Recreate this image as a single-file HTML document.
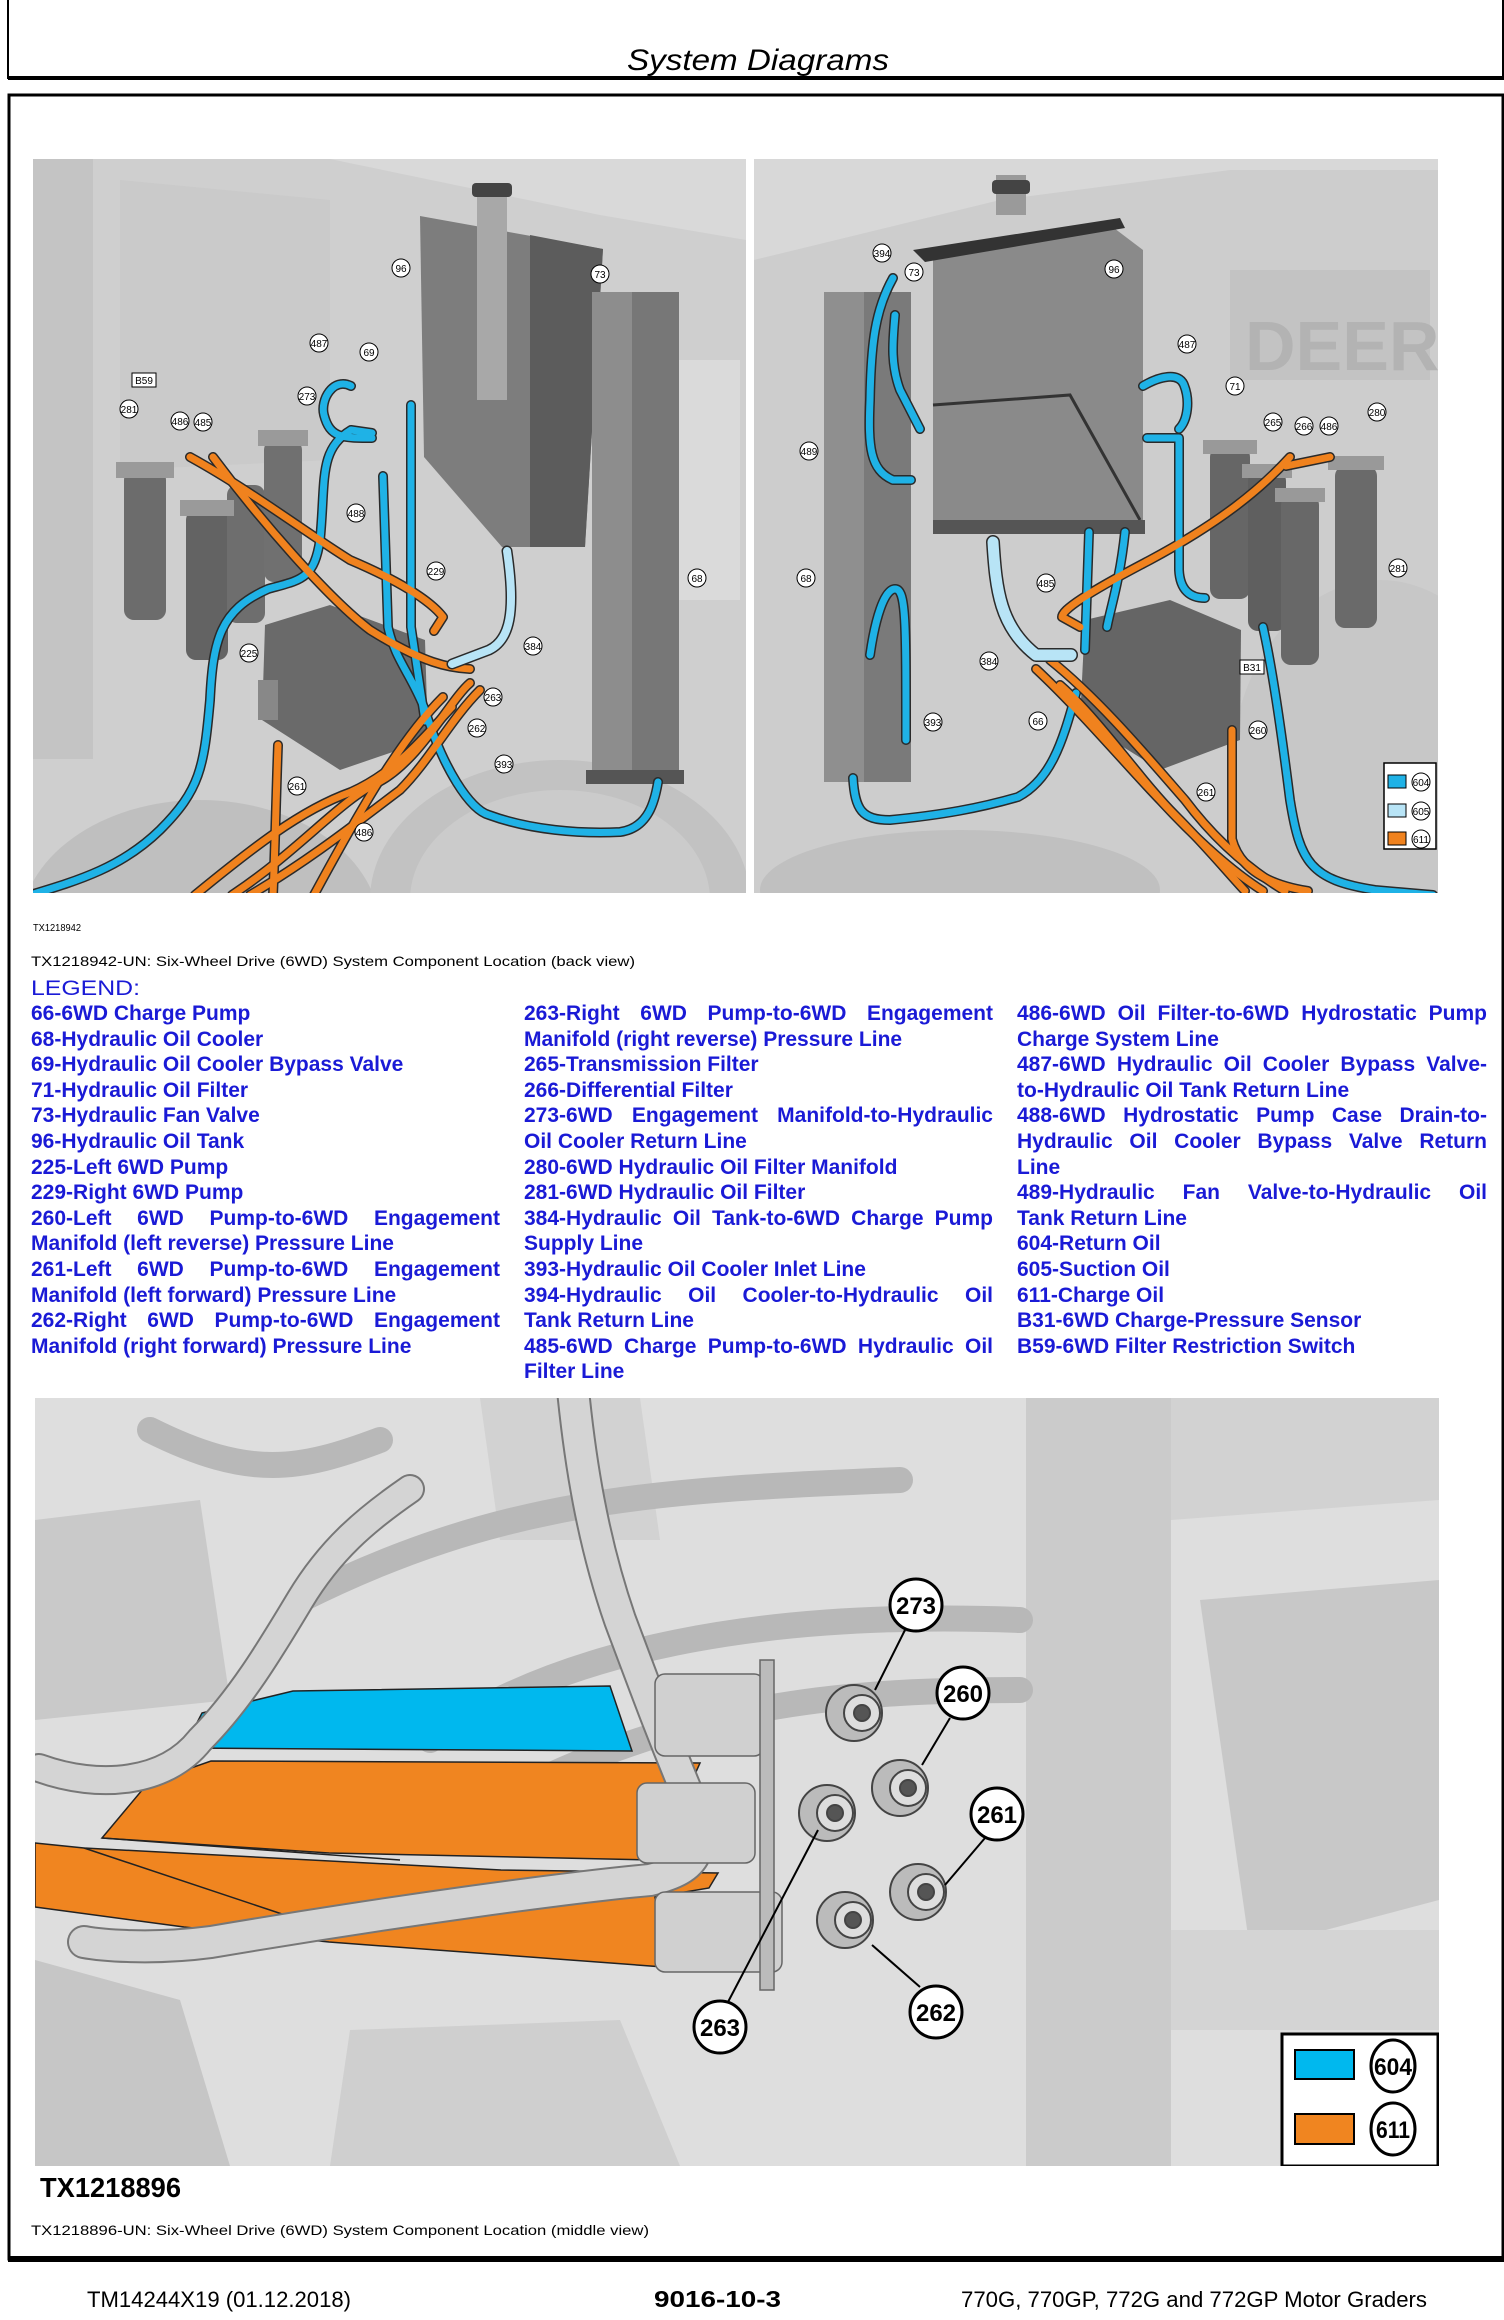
<!DOCTYPE html>
<html><head><meta charset="utf-8"><style>
html,body{margin:0;padding:0;background:#fff;}
svg{display:block;position:absolute;left:0;top:0;}
text{font-family:"Liberation Sans",sans-serif;}
.lg{position:absolute;font-family:"Liberation Sans",sans-serif;font-weight:bold;font-size:21px;line-height:25.6px;color:#1a1ad6;width:470px;}
.lg div{white-space:nowrap;height:25.6px;}
.lg .j{text-align:justify;text-align-last:justify;}
</style></head><body>
<div style="position:relative;width:1504px;height:2320px;overflow:hidden;">
<svg width="1504" height="2320" viewBox="0 0 1504 2320" xmlns="http://www.w3.org/2000/svg">
<defs>
<clipPath id="cL"><rect x="33" y="159" width="713" height="734"/></clipPath>
<clipPath id="cR"><rect x="754" y="159" width="684" height="734"/></clipPath>
<clipPath id="cB"><rect x="35" y="1398" width="1404" height="768"/></clipPath>
</defs>
<rect width="1504" height="2320" fill="#fff"/>
<path d="M8 0 V78 H1503 V0" fill="none" stroke="#000" stroke-width="2"/>
<rect x="8" y="76" width="1496" height="4" fill="#000"/>
<text x="627" y="70" font-size="30" font-style="italic" textLength="262" lengthAdjust="spacingAndGlyphs">System Diagrams</text>
<rect x="9" y="95" width="1494" height="2164" fill="none" stroke="#000" stroke-width="3"/>
<rect x="8" y="2256" width="1496" height="6" fill="#000"/>

<!-- LEFT TOP IMAGE -->
<g clip-path="url(#cL)">
<rect x="33" y="159" width="713" height="734" fill="#d9d9d9"/>
<path d="M33 159 H330 L600 215 L746 240 V893 H33Z" fill="#cfcfcf"/>
<rect x="33" y="159" width="60" height="600" fill="#c4c4c4"/>
<path d="M120 180 L330 200 L330 460 L120 470Z" fill="#cacaca"/>
<path d="M600 360 H740 V600 H600Z" fill="#dadada"/>
<ellipse cx="200" cy="930" rx="180" ry="130" fill="#bfbfbf"/>
<ellipse cx="560" cy="900" rx="190" ry="140" fill="#c2c2c2"/>
<ellipse cx="560" cy="900" rx="150" ry="110" fill="#cbcbcb"/>
<rect x="124" y="470" width="42" height="150" rx="10" fill="#6c6c6c"/>
<rect x="186" y="510" width="42" height="150" rx="10" fill="#636363"/>
<rect x="227" y="485" width="38" height="138" rx="10" fill="#6e6e6e"/>
<rect x="264" y="440" width="38" height="142" rx="10" fill="#707070"/>
<rect x="116" y="462" width="58" height="16" fill="#9a9a9a"/>
<rect x="180" y="500" width="54" height="16" fill="#9a9a9a"/>
<rect x="258" y="430" width="50" height="16" fill="#9a9a9a"/>
<path d="M420 216 L603 249 L585 547 L502 547 L424 457Z" fill="#7d7d7d"/>
<path d="M530 235 L603 249 L585 547 L530 547Z" fill="#5c5c5c"/>
<rect x="477" y="190" width="30" height="210" fill="#a8a8a8"/>
<rect x="472" y="183" width="40" height="14" rx="4" fill="#444"/>
<rect x="592" y="292" width="87" height="490" fill="#777"/>
<rect x="592" y="292" width="40" height="490" fill="#8d8d8d"/>
<rect x="586" y="770" width="98" height="14" fill="#555"/>
<path d="M265 625 L330 605 L425 640 L428 740 L340 770 L262 720Z" fill="#6a6a6a"/>
<rect x="258" y="680" width="20" height="40" fill="#888"/>
<g fill="none" stroke-linecap="round" stroke-linejoin="round">
<g stroke="#2a2a2a" stroke-width="10">
<path d="M30 895 C80 880 122 867 160 830 C200 790 204 768 210 700 C213 640 220 610 268 589 C300 580 314 580 320 540 C326 480 318 450 351 430 L372 433"/>
<path d="M351 386 C333 377 320 400 324 415 C330 438 342 438 372 438"/>
<path d="M383 476 L388 627 C395 660 411 674 425 710 C443 768 470 810 489 815 C530 830 580 834 620 832 C649 828 655 800 658 782"/>
<path d="M411 405 L411 627 L425 721"/>
<path d="M190 457 C250 490 305 532 350 560 C397 580 430 600 443 617 L434 631"/>
<path d="M213 457 C260 520 328 598 370 630 C424 664 450 668 470 669"/>
<path d="M278 745 C276 800 275 850 273 895"/>
<path d="M314 895 C360 810 400 740 443 697"/>
<path d="M195 895 C250 850 300 810 351 792 C400 770 430 730 452 707"/>
<path d="M232 895 C300 850 340 800 379 782 C420 760 450 700 470 683"/>
<path d="M250 895 C310 860 360 820 400 790 C430 760 450 720 480 690"/>
</g>
<g stroke="#1fb2e6" stroke-width="7">
<path d="M30 895 C80 880 122 867 160 830 C200 790 204 768 210 700 C213 640 220 610 268 589 C300 580 314 580 320 540 C326 480 318 450 351 430 L372 433"/>
<path d="M351 386 C333 377 320 400 324 415 C330 438 342 438 372 438"/>
<path d="M383 476 L388 627 C395 660 411 674 425 710 C443 768 470 810 489 815 C530 830 580 834 620 832 C649 828 655 800 658 782"/>
<path d="M411 405 L411 627 L425 721"/>
</g>
<g stroke="#f0821e" stroke-width="7">
<path d="M190 457 C250 490 305 532 350 560 C397 580 430 600 443 617 L434 631"/>
<path d="M213 457 C260 520 328 598 370 630 C424 664 450 668 470 669"/>
<path d="M278 745 C276 800 275 850 273 895"/>
<path d="M314 895 C360 810 400 740 443 697"/>
<path d="M195 895 C250 850 300 810 351 792 C400 770 430 730 452 707"/>
<path d="M232 895 C300 850 340 800 379 782 C420 760 450 700 470 683"/>
<path d="M250 895 C310 860 360 820 400 790 C430 760 450 720 480 690"/>
</g>
<path d="M507 551 C516 612 510 640 489 650 L452 664" stroke="#2a2a2a" stroke-width="11"/>
<path d="M507 551 C516 612 510 640 489 650 L452 664" stroke="#b8e4f6" stroke-width="8"/>
</g>
<g font-size="10" text-anchor="middle" fill="#000">
<g fill="#fff" stroke="#000" stroke-width="1">
<circle cx="401" cy="268" r="9"/><circle cx="600" cy="274" r="9"/><circle cx="319" cy="343" r="9"/><circle cx="369" cy="352" r="9"/><circle cx="307" cy="396" r="9"/><circle cx="129" cy="409" r="9"/><circle cx="180" cy="421" r="9"/><circle cx="203" cy="422" r="9"/><circle cx="356" cy="513" r="9"/><circle cx="436" cy="571" r="9"/><circle cx="697" cy="578" r="9"/><circle cx="533" cy="646" r="9"/><circle cx="249" cy="653" r="9"/><circle cx="493" cy="697" r="9"/><circle cx="477" cy="728" r="9"/><circle cx="504" cy="764" r="9"/><circle cx="297" cy="786" r="9"/><circle cx="364" cy="832" r="9"/>
<rect x="132" y="373" width="24" height="14"/>
</g>
<text x="401" y="272">96</text><text x="600" y="278">73</text><text x="319" y="347">487</text><text x="369" y="356">69</text><text x="307" y="400">273</text><text x="144" y="384">B59</text><text x="129" y="413">281</text><text x="180" y="425">486</text><text x="203" y="426">485</text><text x="356" y="517">488</text><text x="436" y="575">229</text><text x="697" y="582">68</text><text x="533" y="650">384</text><text x="249" y="657">225</text><text x="493" y="701">263</text><text x="477" y="732">262</text><text x="504" y="768">393</text><text x="297" y="790">261</text><text x="364" y="836">486</text>
</g>
</g>

<!-- RIGHT TOP IMAGE -->
<g clip-path="url(#cR)">
<rect x="754" y="159" width="684" height="734" fill="#d8d8d8"/>
<path d="M754 260 L1000 200 L1230 170 L1438 170 V893 H754Z" fill="#cdcdcd"/>
<path d="M1230 270 H1430 V380 H1230Z" fill="#c3c3c3"/>
<text x="1245" y="370" font-size="70" font-weight="bold" fill="#b3b3b3">DEERE</text>
<ellipse cx="1380" cy="780" rx="150" ry="200" fill="#c7c7c7"/>
<ellipse cx="960" cy="890" rx="200" ry="60" fill="#c0c0c0"/>
<rect x="824" y="292" width="87" height="490" fill="#7a7a7a"/>
<rect x="824" y="292" width="40" height="490" fill="#8f8f8f"/>
<path d="M933 250 L1110 225 L1143 250 L1143 532 L933 532Z" fill="#8a8a8a"/>
<path d="M913 250 L1120 218 L1125 228 L925 262Z" fill="#333"/>
<path d="M933 405 L1070 395 L1140 520" fill="none" stroke="#333" stroke-width="3"/>
<rect x="996" y="175" width="30" height="40" fill="#9a9a9a"/>
<rect x="992" y="180" width="38" height="14" rx="4" fill="#444"/>
<rect x="933" y="520" width="212" height="14" fill="#555"/>
<rect x="1210" y="447" width="40" height="152" rx="10" fill="#666"/>
<rect x="1248" y="471" width="38" height="160" rx="10" fill="#5f5f5f"/>
<rect x="1281" y="495" width="38" height="170" rx="10" fill="#686868"/>
<rect x="1335" y="466" width="42" height="162" rx="10" fill="#6a6a6a"/>
<rect x="1203" y="440" width="54" height="14" fill="#999"/><rect x="1328" y="456" width="56" height="14" fill="#999"/><rect x="1242" y="464" width="50" height="14" fill="#999"/><rect x="1275" y="488" width="50" height="14" fill="#999"/>
<path d="M1085 620 L1170 600 L1241 630 L1240 740 L1160 770 L1080 720Z" fill="#656565"/>
<g fill="none" stroke-linecap="round" stroke-linejoin="round">
<g stroke="#2a2a2a" stroke-width="10">
<path d="M893 278 C875 310 871 344 870 400 C868 447 870 470 893 480 L911 480"/>
<path d="M895 315 C893 340 890 363 900 390 L920 429"/>
<path d="M853 778 C855 810 862 820 890 820 C942 815 980 808 1018 797 C1050 780 1062 745 1076 693"/>
<path d="M870 655 C875 620 884 589 895 589 C906 589 906 620 906 740"/>
<path d="M1147 438 L1179 438 L1179 570 C1180 590 1190 598 1205 598"/>
<path d="M1143 386 C1160 376 1179 372 1184 385 C1190 400 1188 420 1179 429"/>
<path d="M1263 627 C1275 680 1286 768 1290 800 C1300 862 1310 880 1375 890 L1433 895"/>
<path d="M1089 532 L1085 650"/>
<path d="M1125 532 C1120 580 1110 610 1107 627"/>
<path d="M1290 457 C1260 490 1219 523 1150 560 C1085 594 1062 610 1062 617 L1080 627"/>
<path d="M1036 669 C1080 710 1129 768 1160 800 C1196 839 1230 870 1263 891"/>
<path d="M1050 660 C1100 700 1150 760 1185 800 C1215 840 1250 870 1285 891"/>
<path d="M1060 685 C1100 720 1140 780 1175 815 C1205 845 1230 875 1245 891"/>
<path d="M1232 730 L1232 839 C1240 870 1270 885 1308 891"/>
<path d="M1286 466 L1330 457"/>
</g>
<g stroke="#1fb2e6" stroke-width="7">
<path d="M893 278 C875 310 871 344 870 400 C868 447 870 470 893 480 L911 480"/>
<path d="M895 315 C893 340 890 363 900 390 L920 429"/>
<path d="M853 778 C855 810 862 820 890 820 C942 815 980 808 1018 797 C1050 780 1062 745 1076 693"/>
<path d="M870 655 C875 620 884 589 895 589 C906 589 906 620 906 740"/>
<path d="M1147 438 L1179 438 L1179 570 C1180 590 1190 598 1205 598"/>
<path d="M1143 386 C1160 376 1179 372 1184 385 C1190 400 1188 420 1179 429"/>
<path d="M1263 627 C1275 680 1286 768 1290 800 C1300 862 1310 880 1375 890 L1433 895"/>
<path d="M1089 532 L1085 650"/>
<path d="M1125 532 C1120 580 1110 610 1107 627"/>
</g>
<g stroke="#f0821e" stroke-width="7">
<path d="M1290 457 C1260 490 1219 523 1150 560 C1085 594 1062 610 1062 617 L1080 627"/>
<path d="M1036 669 C1080 710 1129 768 1160 800 C1196 839 1230 870 1263 891"/>
<path d="M1050 660 C1100 700 1150 760 1185 800 C1215 840 1250 870 1285 891"/>
<path d="M1060 685 C1100 720 1140 780 1175 815 C1205 845 1230 875 1245 891"/>
<path d="M1232 730 L1232 839 C1240 870 1270 885 1308 891"/>
<path d="M1286 466 L1330 457"/>
</g>
<path d="M993 542 C996 590 1000 627 1036 655 L1071 655" stroke="#2a2a2a" stroke-width="14"/>
<path d="M993 542 C996 590 1000 627 1036 655 L1071 655" stroke="#b8e4f6" stroke-width="11"/>
</g>
<g font-size="10" text-anchor="middle" fill="#000">
<g fill="#fff" stroke="#000" stroke-width="1">
<circle cx="882" cy="253" r="9"/><circle cx="914" cy="272" r="9"/><circle cx="1114" cy="269" r="9"/><circle cx="1187" cy="344" r="9"/><circle cx="1235" cy="386" r="9"/><circle cx="1273" cy="422" r="9"/><circle cx="1304" cy="426" r="9"/><circle cx="1329" cy="426" r="9"/><circle cx="1377" cy="412" r="9"/><circle cx="809" cy="451" r="9"/><circle cx="806" cy="578" r="9"/><circle cx="1046" cy="583" r="9"/><circle cx="1398" cy="568" r="9"/><circle cx="989" cy="661" r="9"/><circle cx="1038" cy="721" r="9"/><circle cx="933" cy="722" r="9"/><circle cx="1258" cy="730" r="9"/><circle cx="1206" cy="792" r="9"/>
<rect x="1240" y="660" width="24" height="14"/>
</g>
<text x="882" y="257">394</text><text x="914" y="276">73</text><text x="1114" y="273">96</text><text x="1187" y="348">487</text><text x="1235" y="390">71</text><text x="1273" y="426">265</text><text x="1304" y="430">266</text><text x="1329" y="430">486</text><text x="1377" y="416">280</text><text x="809" y="455">489</text><text x="806" y="582">68</text><text x="1046" y="587">485</text><text x="1398" y="572">281</text><text x="989" y="665">384</text><text x="1252" y="671">B31</text><text x="1038" y="725">66</text><text x="933" y="726">393</text><text x="1258" y="734">260</text><text x="1206" y="796">261</text>
</g>
<rect x="1384" y="763" width="52" height="86" fill="#fff" stroke="#000" stroke-width="1.5"/>
<rect x="1388" y="775" width="18" height="13" fill="#1fb2e6" stroke="#000"/>
<rect x="1388" y="804" width="18" height="13" fill="#b8e4f6" stroke="#000"/>
<rect x="1388" y="832" width="18" height="13" fill="#f0821e" stroke="#000"/>
<g font-size="10" text-anchor="middle"><circle cx="1421" cy="782" r="9" fill="#fff" stroke="#000"/><circle cx="1421" cy="811" r="9" fill="#fff" stroke="#000"/><circle cx="1421" cy="839" r="9" fill="#fff" stroke="#000"/>
<text x="1421" y="786">604</text><text x="1421" y="815">605</text><text x="1421" y="843">611</text></g>
</g>

<text x="33" y="931" font-size="10" textLength="48" lengthAdjust="spacingAndGlyphs">TX1218942</text>
<text x="31" y="966" font-size="14" textLength="604" lengthAdjust="spacingAndGlyphs">TX1218942-UN: Six-Wheel Drive (6WD) System Component Location (back view)</text>
<text x="31" y="995" font-size="21" fill="#1a1ad6" textLength="109" lengthAdjust="spacingAndGlyphs">LEGEND:</text>

<!-- BOTTOM IMAGE -->
<g clip-path="url(#cB)">
<rect x="35" y="1398" width="1404" height="768" fill="#dedede"/>
<rect x="1026" y="1398" width="145" height="768" fill="#cbcbcb"/>
<path d="M1171 1398 H1439 V1500 L1171 1520Z" fill="#d2d2d2"/>
<path d="M1200 1600 L1439 1580 V1900 L1250 1950Z" fill="#c8c8c8"/>
<path d="M1171 1930 H1439 V2030 H1171Z" fill="#d4d4d4"/>
<path d="M35 1520 L200 1500 L230 1700 L35 1720Z" fill="#c9c9c9"/>
<path d="M35 1960 L180 2000 L230 2166 H35Z" fill="#c6c6c6"/>
<path d="M350 2030 L620 2020 L680 2166 H330Z" fill="#cfcfcf"/>
<path d="M480 1398 L640 1398 L660 1540 L500 1540Z" fill="#d2d2d2"/>
<g fill="none" stroke="#b8b8b8" stroke-width="26" stroke-linecap="round">
<path d="M430 1740 C560 1650 760 1610 1020 1620"/>
<path d="M520 1790 C700 1700 860 1690 1020 1690"/>
<path d="M300 1600 C500 1500 650 1490 900 1480"/>
<path d="M150 1430 C250 1480 300 1470 380 1440"/>
</g>
<path d="M202 1713 L293 1691 L610 1686 L632 1751 L184 1748Z" fill="#00b8ee" stroke="#222" stroke-width="1.5"/>
<path d="M148 1783 L211 1761 L700 1763 L691 1783 L646 1798 L655 1860 L329 1853 L102 1838Z" fill="#f08520" stroke="#222" stroke-width="1.5"/>
<path d="M35 1843 L84 1848 L501 1870 L718 1873 L709 1888 L655 1897 L664 1967 L329 1942 L184 1927 L35 1907Z" fill="#f08520" stroke="#222" stroke-width="1.5"/>
<path d="M102 1838 L400 1860" stroke="#222" stroke-width="1.5"/>
<path d="M84 1848 L300 1920" stroke="#222" stroke-width="1.5"/>
<g fill="none" stroke-linecap="round" stroke-linejoin="round">
<path d="M573 1390 C580 1460 592 1539 620 1620 C650 1700 664 1738 690 1800 C705 1850 700 1868 650 1880 C573 1887 400 1910 211 1942 C150 1950 100 1945 84 1942" stroke="#777" stroke-width="34"/>
<path d="M573 1390 C580 1460 592 1539 620 1620 C650 1700 664 1738 690 1800 C705 1850 700 1868 650 1880 C573 1887 400 1910 211 1942 C150 1950 100 1945 84 1942" stroke="#d4d4d4" stroke-width="30"/>
<path d="M39 1768 C100 1790 166 1783 200 1740 C240 1700 270 1650 300 1600 C330 1550 365 1520 410 1489" stroke="#777" stroke-width="30"/>
<path d="M39 1768 C100 1790 166 1783 200 1740 C240 1700 270 1650 300 1600 C330 1550 365 1520 410 1489" stroke="#d4d4d4" stroke-width="26"/>
</g>
<g fill="#d0d0d0" stroke="#666" stroke-width="1.5">
<rect x="655" y="1674" width="109" height="82" rx="10"/>
<rect x="637" y="1783" width="118" height="80" rx="10"/>
<rect x="655" y="1892" width="127" height="80" rx="10"/>
<rect x="760" y="1660" width="14" height="330" fill="#bbb"/>
</g>
<g stroke="#444" stroke-width="2">
<circle cx="854" cy="1713" r="28" fill="#bbb"/><circle cx="862" cy="1713" r="18" fill="#ddd"/><circle cx="862" cy="1713" r="8" fill="#555"/>
<circle cx="900" cy="1788" r="28" fill="#bbb"/><circle cx="908" cy="1788" r="18" fill="#ddd"/><circle cx="908" cy="1788" r="8" fill="#555"/>
<circle cx="827" cy="1813" r="28" fill="#bbb"/><circle cx="835" cy="1813" r="18" fill="#ddd"/><circle cx="835" cy="1813" r="8" fill="#555"/>
<circle cx="918" cy="1892" r="28" fill="#bbb"/><circle cx="926" cy="1892" r="18" fill="#ddd"/><circle cx="926" cy="1892" r="8" fill="#555"/>
<circle cx="845" cy="1920" r="28" fill="#bbb"/><circle cx="853" cy="1920" r="18" fill="#ddd"/><circle cx="853" cy="1920" r="8" fill="#555"/>
</g>
<g stroke="#000" stroke-width="2">
<line x1="905" y1="1630" x2="875" y2="1690"/>
<line x1="950" y1="1718" x2="922" y2="1765"/>
<line x1="985" y1="1838" x2="945" y2="1885"/>
<line x1="920" y1="1987" x2="872" y2="1945"/>
<line x1="728" y1="2002" x2="818" y2="1830"/>
</g>
<g font-size="24" font-weight="bold" text-anchor="middle">
<g fill="#fff" stroke="#000" stroke-width="3">
<circle cx="916" cy="1605" r="26"/><circle cx="963" cy="1693" r="26"/><circle cx="997" cy="1814" r="26"/><circle cx="936" cy="2012" r="26"/><circle cx="720" cy="2027" r="26"/>
</g>
<text x="916" y="1614">273</text><text x="963" y="1702">260</text><text x="997" y="1823">261</text><text x="936" y="2021">262</text><text x="720" y="2036">263</text>
</g>
<rect x="1282" y="2034" width="156" height="132" fill="#fff" stroke="#000" stroke-width="3"/>
<rect x="1295" y="2050" width="59" height="29" fill="#00b8ee" stroke="#000" stroke-width="2"/>
<rect x="1295" y="2114" width="59" height="30" fill="#f08520" stroke="#000" stroke-width="2"/>
<g font-size="24" font-weight="bold" text-anchor="middle">
<ellipse cx="1393" cy="2066" rx="22" ry="26" fill="#fff" stroke="#000" stroke-width="3"/>
<ellipse cx="1393" cy="2129" rx="22" ry="26" fill="#fff" stroke="#000" stroke-width="3"/>
<text x="1393" y="2075" textLength="38" lengthAdjust="spacingAndGlyphs">604</text>
<text x="1393" y="2138" textLength="34" lengthAdjust="spacingAndGlyphs">611</text>
</g>
</g>

<text x="40" y="2197" font-size="28" font-weight="bold" textLength="141" lengthAdjust="spacingAndGlyphs">TX1218896</text>
<text x="31" y="2235" font-size="14" textLength="618" lengthAdjust="spacingAndGlyphs">TX1218896-UN: Six-Wheel Drive (6WD) System Component Location (middle view)</text>

<text x="87" y="2307" font-size="22" textLength="264" lengthAdjust="spacingAndGlyphs">TM14244X19 (01.12.2018)</text>
<text x="654" y="2307" font-size="23" font-weight="bold" textLength="127" lengthAdjust="spacingAndGlyphs">9016-10-3</text>
<text x="961" y="2307" font-size="22" textLength="466" lengthAdjust="spacingAndGlyphs">770G, 770GP, 772G and 772GP Motor Graders</text>
</svg>

<div class="lg" style="left:31px;top:1001px;width:469px;">
<div>66-6WD Charge Pump</div>
<div>68-Hydraulic Oil Cooler</div>
<div>69-Hydraulic Oil Cooler Bypass Valve</div>
<div>71-Hydraulic Oil Filter</div>
<div>73-Hydraulic Fan Valve</div>
<div>96-Hydraulic Oil Tank</div>
<div>225-Left 6WD Pump</div>
<div>229-Right 6WD Pump</div>
<div class="j">260-Left 6WD Pump-to-6WD Engagement</div>
<div>Manifold (left reverse) Pressure Line</div>
<div class="j">261-Left 6WD Pump-to-6WD Engagement</div>
<div>Manifold (left forward) Pressure Line</div>
<div class="j">262-Right 6WD Pump-to-6WD Engagement</div>
<div>Manifold (right forward) Pressure Line</div>
</div>
<div class="lg" style="left:524px;top:1001px;width:469px;">
<div class="j">263-Right 6WD Pump-to-6WD Engagement</div>
<div>Manifold (right reverse) Pressure Line</div>
<div>265-Transmission Filter</div>
<div>266-Differential Filter</div>
<div class="j">273-6WD Engagement Manifold-to-Hydraulic</div>
<div>Oil Cooler Return Line</div>
<div>280-6WD Hydraulic Oil Filter Manifold</div>
<div>281-6WD Hydraulic Oil Filter</div>
<div class="j">384-Hydraulic Oil Tank-to-6WD Charge Pump</div>
<div>Supply Line</div>
<div>393-Hydraulic Oil Cooler Inlet Line</div>
<div class="j">394-Hydraulic Oil Cooler-to-Hydraulic Oil</div>
<div>Tank Return Line</div>
<div class="j">485-6WD Charge Pump-to-6WD Hydraulic Oil</div>
<div>Filter Line</div>
</div>
<div class="lg" style="left:1017px;top:1001px;width:470px;">
<div class="j">486-6WD Oil Filter-to-6WD Hydrostatic Pump</div>
<div>Charge System Line</div>
<div class="j">487-6WD Hydraulic Oil Cooler Bypass Valve-</div>
<div>to-Hydraulic Oil Tank Return Line</div>
<div class="j">488-6WD Hydrostatic Pump Case Drain-to-</div>
<div class="j">Hydraulic Oil Cooler Bypass Valve Return</div>
<div>Line</div>
<div class="j">489-Hydraulic Fan Valve-to-Hydraulic Oil</div>
<div>Tank Return Line</div>
<div>604-Return Oil</div>
<div>605-Suction Oil</div>
<div>611-Charge Oil</div>
<div>B31-6WD Charge-Pressure Sensor</div>
<div>B59-6WD Filter Restriction Switch</div>
</div>
</div>
</body></html>
